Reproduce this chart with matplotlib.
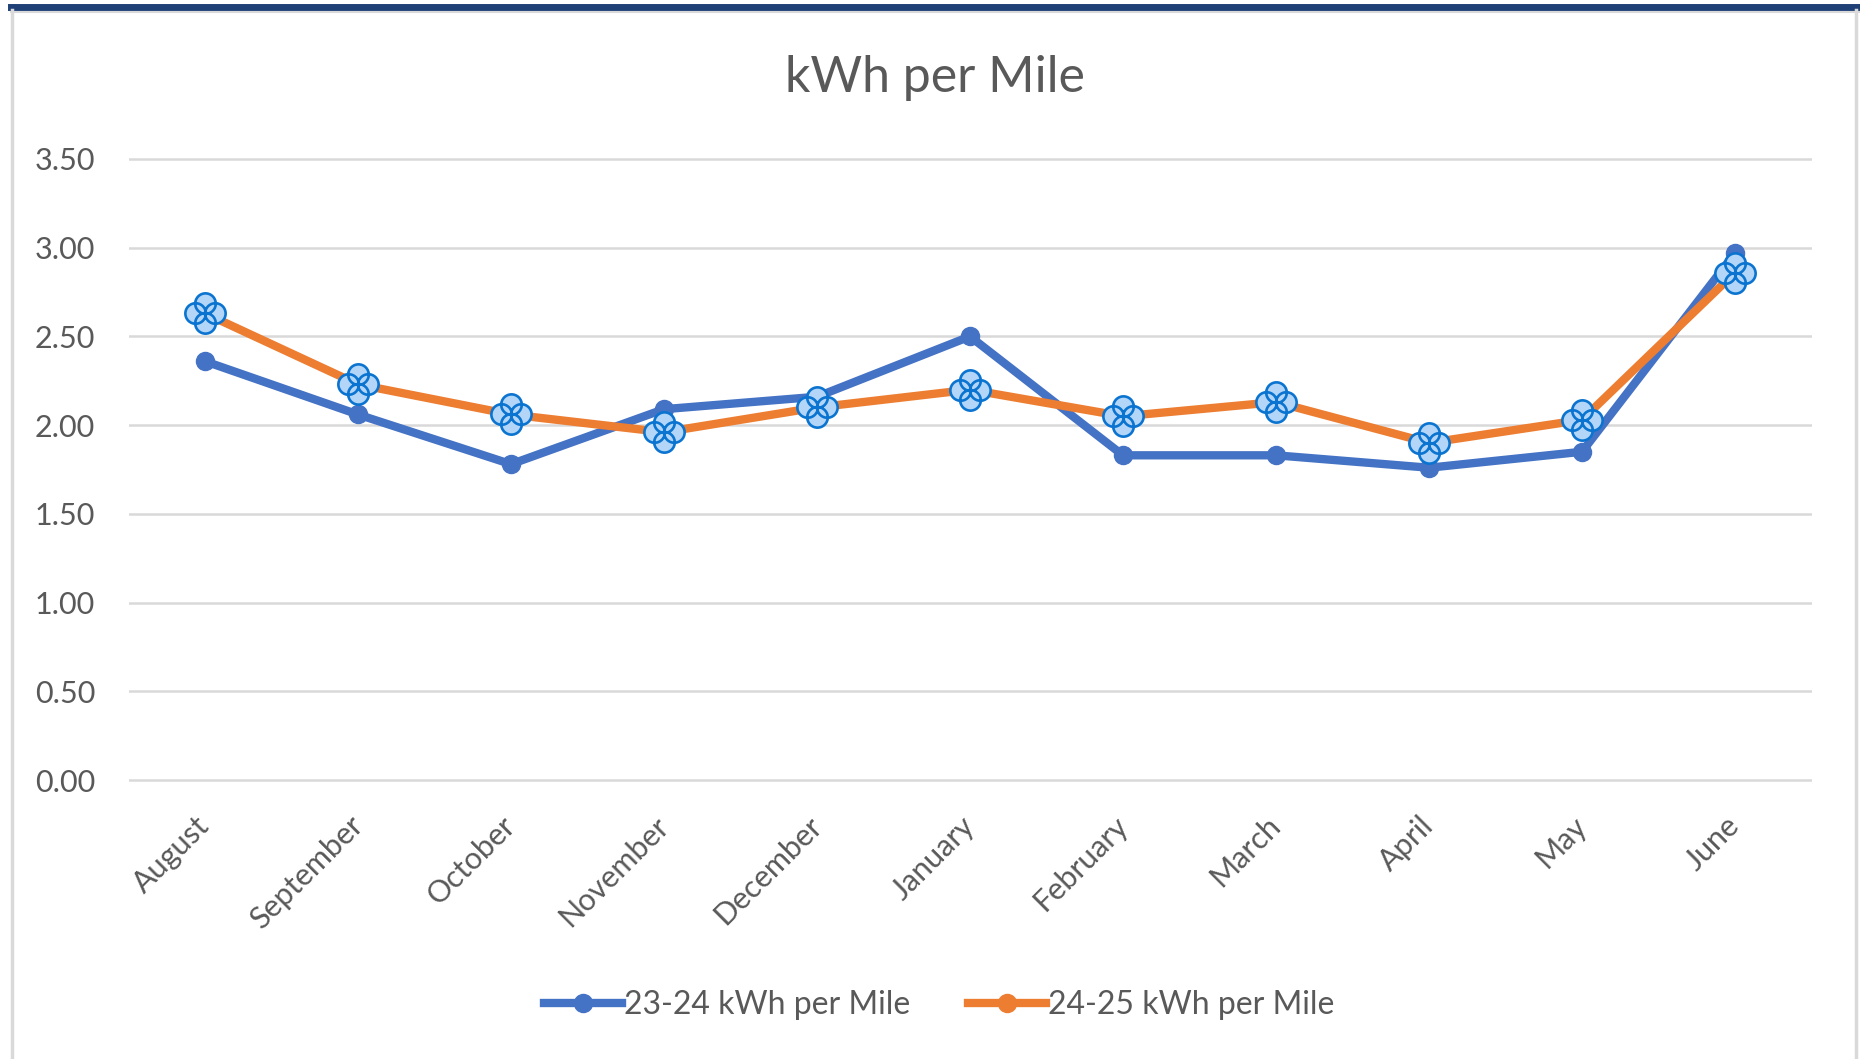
import matplotlib
matplotlib.use("Agg")
import matplotlib.pyplot as plt
from matplotlib.path import Path
from matplotlib.lines import Line2D

months = ["August", "September", "October", "November", "December", "January",
          "February", "March", "April", "May", "June"]
kwh_23_24 = [2.36, 2.06, 1.78, 2.09, 2.16, 2.50, 1.83, 1.83, 1.76, 1.85, 2.97]
kwh_24_25 = [2.63, 2.23, 2.06, 1.96, 2.10, 2.20, 2.05, 2.13, 1.90, 2.03, 2.86]
yticks = [0.0, 0.5, 1.0, 1.5, 2.0, 2.5, 3.0, 3.5]
series_names = ["23-24 kWh per Mile", "24-25 kWh per Mile"]
title = "kWh per Mile"

plt.rcParams['font.family'] = ['Lato', 'DejaVu Sans']

W, H = 1860, 1059
fig = plt.figure(figsize=(W / 100, H / 100), dpi=100)

# axes placement in pixels
y0_px, y35_px = 780.0, 159.0
per_unit = (y0_px - y35_px) / 3.5
ylo, yhi = -0.02, 3.52
bot_px = y0_px + (0 - ylo) * per_unit
top_px = y35_px - (yhi - 3.5) * per_unit
x0_px, x10_px = 205.0, 1735.0
step = (x10_px - x0_px) / 10
left_px = x0_px - 0.5 * step
right_px = x10_px + 0.5 * step
ax = fig.add_axes([left_px / W, 1 - bot_px / H, (right_px - left_px) / W, (bot_px - top_px) / H])

x = list(range(len(months)))
blue = "#4472C4"
orange = "#ED7D31"

ax.plot(x, kwh_23_24, color=blue, lw=6, marker='o', ms=13, label=series_names[0],
        solid_joinstyle='round', zorder=3)
ax.plot(x, kwh_24_25, color=orange, lw=6, marker='o', ms=13, label=series_names[1],
        solid_joinstyle='round', zorder=4)

# clover-shaped overlay marker on the 24-25 points
r = 0.255
d = 0.245
clover = Path.make_compound_path(
    Path.circle((0, d), r), Path.circle((0, -d), r),
    Path.circle((-d, 0), r), Path.circle((d, 0), r))
ax.plot(x, kwh_24_25, ls='none', marker=clover, ms=29, mfc="#B3D6F8", mec="#0A74D0",
        mew=1.9, zorder=5)

ax.set_xlim(-0.5, 10.5)
ax.set_ylim(ylo, yhi)
ax.set_yticks(yticks)
ax.set_yticklabels([f"{v:.2f}" for v in yticks])
ax.set_xticks(x)
ax.set_xticklabels(months, rotation=45, ha='right', va='center', rotation_mode='anchor')
ax.tick_params(axis='both', length=0, labelsize=22, labelcolor="#595959")
ax.tick_params(axis='y', pad=24)
ax.tick_params(axis='x', pad=27)
ax.grid(axis='y', color="#D9D9D9", lw=1.8)
ax.set_axisbelow(True)
for s in ax.spines.values():
    s.set_visible(False)

fig.text(935 / W, 1 - 78 / H, title, ha='center', va='center', fontsize=36, color="#595959")

leg = fig.legend(loc='center', bbox_to_anchor=(939 / W, 1 - 1005 / H), ncol=2, frameon=False,
                 fontsize=23, handlelength=2.45, handletextpad=0.05, columnspacing=1.8,
                 labelcolor="#595959")

# chart frame decorations
fig.add_artist(Line2D([11 / W, 1], [1 - 7 / H, 1 - 7 / H], color="#1F3F77", lw=5,
                      transform=fig.transFigure))
fig.add_artist(Line2D([11 / W, 1], [1 - 11.5 / H, 1 - 11.5 / H], color="#D9D9D9", lw=1.5,
                      transform=fig.transFigure))
fig.add_artist(Line2D([11.5 / W, 11.5 / W], [0, 1 - 10 / H], color="#D9D9D9", lw=2.5,
                      transform=fig.transFigure))
fig.add_artist(Line2D([1855.5 / W, 1855.5 / W], [0, 1 - 10 / H], color="#D9D9D9", lw=2.5,
                      transform=fig.transFigure))

fig.savefig("out.png", dpi=100)
